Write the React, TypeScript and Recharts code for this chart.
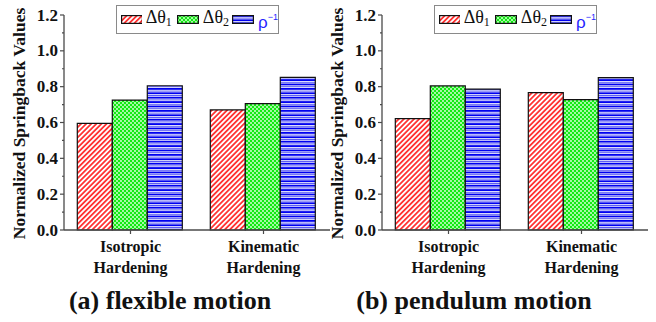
import React from 'react';
import { Bar, BarChart, Legend, XAxis, YAxis } from 'recharts';

const categories = ['Isotropic\nHardening', 'Kinematic\nHardening'];

// (a) flexible motion
const flexDTheta1 = [0.595, 0.67];
const flexDTheta2 = [0.725, 0.705];
const flexRhoInv = [0.805, 0.852];

// (b) pendulum motion
const pendDTheta1 = [0.622, 0.767];
const pendDTheta2 = [0.804, 0.728];
const pendRhoInv = [0.786, 0.851];

const yTicks = [0, 0.1, 0.2, 0.3, 0.4, 0.5, 0.6, 0.7, 0.8, 0.9, 1.0, 1.1, 1.2];
// category boundaries, for the small x ticks between groups
const boundaryTicks = [0, 1, 2];

const SERIF = 'Liberation Serif, DejaVu Serif, serif';
const SANS = 'Liberation Sans, Arial, sans-serif';
const AXIS = '#4a4a4a';

function buildRows(a: number[], b: number[], c: number[]) {
  return categories.map((name, i) => ({ name, d1: a[i], d2: b[i], rho: c[i] }));
}

const YTick = (props: any) => {
  const { x, y, payload } = props;
  const v = payload.value;
  const major = Math.round(v * 10) % 2 === 0;
  return (
    <g>
      <line x1={x + (major ? 2 : 4)} x2={x + 6} y1={y} y2={y} stroke={AXIS} strokeWidth={1.2} />
      {major && (
        <text x={x} y={y} dy={5.5} textAnchor="end" style={{ fontFamily: SERIF, fontWeight: 'bold', fontSize: 17 }} fill="#111">
          {v.toFixed(1)}
        </text>
      )}
    </g>
  );
};

const XTick = (props: any) => {
  const { x, y, payload } = props;
  const [l1, l2] = String(payload.value).split('\n');
  return (
    <g style={{ fontFamily: SERIF, fontWeight: 'bold', fontSize: 16 }} fill="#111">
      <text x={x} y={y + 16} textAnchor="middle">{l1}</text>
      <text x={x} y={y + 37} textAnchor="middle">{l2}</text>
    </g>
  );
};

const Patterns = ({ id }: { id: string }) => (
  <defs>
    <pattern id={`${id}-red`} width="3.6" height="3.6" patternUnits="userSpaceOnUse" patternTransform="rotate(45)">
      <rect width="3.6" height="3.6" fill="#fff" />
      <line x1="0.9" y1="0" x2="0.9" y2="3.6" stroke="#ff1a1a" strokeWidth="1.6" />
    </pattern>
    <pattern id={`${id}-green`} width="4" height="4" patternUnits="userSpaceOnUse">
      <rect width="4" height="4" fill="#12ea12" />
      <circle cx="1" cy="1" r="0.9" fill="#eaffea" />
      <circle cx="3" cy="3" r="0.9" fill="#eaffea" />
    </pattern>
    <pattern id={`${id}-blue`} width="4.4" height="4.4" patternUnits="userSpaceOnUse">
      <rect width="4.4" height="4.4" fill="#fff" />
      <rect y="0" width="4.4" height="1.8" fill="#0000f0" />
      <rect y="2.6" width="4.4" height="1.1" fill="#5a5af2" />
    </pattern>
  </defs>
);

const Swatch = ({ fill }: { fill: string }) => (
  <svg width={22} height={9} style={{ display: 'block' }}>
    <rect x={0.6} y={0.6} width={20.8} height={7.8} fill={fill} stroke="#111" strokeWidth={1.2} />
  </svg>
);

const LegendBox = ({ id }: { id: string }) => (
  <div
    style={{
      boxSizing: 'border-box',
      width: 163,
      height: 29,
      border: '1px solid #8a8a8a',
      background: '#fff',
      display: 'flex',
      alignItems: 'center',
      paddingLeft: 4,
      fontFamily: SERIF,
      fontSize: 18,
      color: '#111',
    }}
  >
    <Swatch fill={`url(#${id}-red)`} />
    <span style={{ marginLeft: 4, lineHeight: '18px' }}>
      Δθ<sub style={{ fontSize: 12, verticalAlign: '-3px' }}>1</sub>
    </span>
    <span style={{ marginLeft: 5 }}>
      <Swatch fill={`url(#${id}-green)`} />
    </span>
    <span style={{ marginLeft: 4, lineHeight: '18px' }}>
      Δθ<sub style={{ fontSize: 12, verticalAlign: '-3px' }}>2</sub>
    </span>
    <span style={{ marginLeft: 3 }}>
      <Swatch fill={`url(#${id}-blue)`} />
    </span>
    <span style={{ marginLeft: 4, lineHeight: '18px', color: '#2424ff', fontFamily: SANS, fontSize: 17 }}>
      ρ<sup style={{ fontSize: 9, verticalAlign: '8px' }}>−1</sup>
    </span>
  </div>
);

interface PanelProps {
  id: string;
  left: number;
  rows: { name: string; d1: number; d2: number; rho: number }[];
  subtitle: string;
  subtitleCenter: number;
}

const Panel = ({ id, left, rows, subtitle, subtitleCenter }: PanelProps) => (
  <div style={{ position: 'absolute', left, top: 0, width: 338, height: 322 }}>
    <BarChart
      width={338}
      height={322}
      data={rows}
      margin={{ top: 15, right: 8, left: 0, bottom: 0 }}
      barCategoryGap="10%"
      barGap={0}
    >
      <Patterns id={id} />
      <XAxis
        xAxisId="minor"
        type="number"
        domain={[0, 2]}
        ticks={boundaryTicks}
        height={0}
        tickSize={3}
        tick={false}
        axisLine={false}
        tickLine={{ stroke: AXIS, strokeWidth: 1.2 }}
      />
      <XAxis
        dataKey="name"
        height={92}
        tickSize={4}
        tickMargin={2}
        interval={0}
        tick={<XTick />}
        axisLine={{ stroke: AXIS, strokeWidth: 1.3 }}
        tickLine={{ stroke: AXIS, strokeWidth: 1.2 }}
      />
      <YAxis
        width={64}
        domain={[0, 1.2]}
        ticks={yTicks}
        interval={0}
        tickSize={4}
        tickMargin={2}
        tickLine={false}
        tick={<YTick />}
        axisLine={{ stroke: AXIS, strokeWidth: 1.3 }}
        label={({ viewBox }: any) => (
          <text
            x={0}
            y={0}
            transform={`translate(${viewBox.x + 19}, ${viewBox.y + viewBox.height / 2 + 1}) rotate(-90)`}
            textAnchor="middle"
            dominantBaseline="central"
            style={{ fontFamily: SERIF, fontWeight: 'bold', fontSize: 17.5 }}
            fill="#111"
          >
            Normalized Springback Values
          </text>
        )}
      />
      <Legend
        layout="horizontal"
        verticalAlign="middle"
        align="center"
        wrapperStyle={{ left: 116, top: 5, width: 163, height: 29 }}
        content={() => <LegendBox id={id} />}
      />
      <Bar dataKey="d1" fill={`url(#${id}-red)`} stroke="#111" strokeWidth={1.2} isAnimationActive={false} />
      <Bar dataKey="d2" fill={`url(#${id}-green)`} stroke="#111" strokeWidth={1.2} isAnimationActive={false} />
      <Bar dataKey="rho" fill={`url(#${id}-blue)`} stroke="#111" strokeWidth={1.2} isAnimationActive={false} />
    </BarChart>
    <div
      style={{
        position: 'absolute',
        left: subtitleCenter - 160,
        width: 320,
        top: 287,
        textAlign: 'center',
        fontFamily: SERIF,
        fontWeight: 'bold',
        fontSize: 26,
        lineHeight: '28px',
        color: '#111',
        whiteSpace: 'nowrap',
      }}
    >
      {subtitle}
    </div>
  </div>
);

export default function App() {
  return (
    <div style={{ position: 'fixed', left: 0, top: 0, width: 656, height: 322, background: '#fff', overflow: 'hidden' }}>
      <Panel id="pa" left={0} rows={buildRows(flexDTheta1, flexDTheta2, flexRhoInv)} subtitle="(a) flexible motion" subtitleCenter={170} />
      <Panel id="pb" left={318} rows={buildRows(pendDTheta1, pendDTheta2, pendRhoInv)} subtitle="(b) pendulum motion" subtitleCenter={156} />
    </div>
  );
}
